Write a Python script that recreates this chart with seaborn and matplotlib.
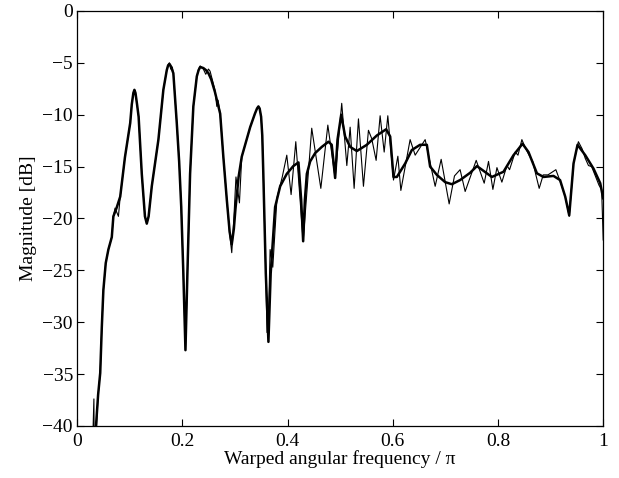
import matplotlib
matplotlib.use("Agg")
import matplotlib.pyplot as plt
import seaborn as sns
import pandas as pd

# Smoothed (thick) spectrum
thick_x = [0.036, 0.040, 0.044, 0.047, 0.050, 0.0545, 0.0595, 0.066, 0.069, 0.075,
           0.082, 0.091, 0.101, 0.104, 0.107, 0.109, 0.111, 0.114, 0.117, 0.123,
           0.129, 0.1325, 0.136, 0.142, 0.1546, 0.164, 0.1705, 0.173, 0.1755, 0.178,
           0.183, 0.1895, 0.194, 0.198, 0.202, 0.206, 0.2097, 0.2148, 0.221, 0.2276,
           0.231, 0.234, 0.240, 0.245, 0.2497, 0.255, 0.262, 0.272, 0.278, 0.2846,
           0.290, 0.294, 0.298, 0.301, 0.307, 0.313, 0.320, 0.329, 0.338, 0.342,
           0.3447, 0.347, 0.3498, 0.352, 0.354, 0.3587, 0.3637, 0.368, 0.3764, 0.386,
           0.3986, 0.411, 0.4208, 0.4259, 0.4297, 0.433, 0.4367, 0.443, 0.4525, 0.4652,
           0.4778, 0.484, 0.4905, 0.495, 0.502, 0.5095, 0.519, 0.5317, 0.5507, 0.5698,
           0.5875, 0.5951, 0.6014, 0.6078, 0.6236, 0.6363, 0.652, 0.6648, 0.671, 0.6838,
           0.6996, 0.7123, 0.728, 0.747, 0.760, 0.7884, 0.8105, 0.8295, 0.8466, 0.858,
           0.874, 0.8865, 0.9055, 0.918, 0.9278, 0.9354, 0.9436, 0.9512, 0.9658, 0.9816,
           0.9943, 1.0]
thick_y = [-40.0, -37.0, -34.9, -30.5, -26.9, -24.3, -23.0, -21.8, -19.8, -19.0,
           -17.9, -14.1, -10.8, -9.0, -7.9, -7.6, -7.9, -9.0, -10.2, -15.7,
           -19.8, -20.5, -19.8, -16.9, -12.4, -7.6, -5.7, -5.25, -5.1, -5.3,
           -6.0, -10.8, -14.5, -18.9, -25.3, -32.7, -25.3, -15.7, -9.2, -6.3,
           -5.7, -5.4, -5.5, -5.7, -6.0, -6.6, -7.8, -9.9, -14.05, -18.2,
           -21.3, -22.5, -21.0, -19.1, -16.0, -14.05, -12.8, -11.2, -9.9, -9.4,
           -9.2, -9.4, -10.2, -12.0, -15.7, -25.3, -31.9, -25.3, -18.9, -16.9,
           -15.7, -14.95, -14.6, -18.2, -22.2, -18.2, -15.7, -14.5, -13.7, -13.1,
           -12.6, -12.9, -16.1, -12.4, -10.0, -12.1, -13.1, -13.5, -12.9, -12.0,
           -11.4, -12.1, -16.0, -16.0, -14.7, -13.4, -12.9, -12.9, -15.0, -15.8,
           -16.5, -16.7, -16.3, -15.6, -14.95, -16.0, -15.5, -13.9, -12.8, -13.6,
           -15.65, -16.0, -15.9, -16.3, -17.9, -19.7, -14.7, -12.9, -13.9, -15.2,
           -16.6, -18.1]

# Detailed (thin) spectrum
thin_x = [0.030, 0.032, 0.033, 0.036, 0.040, 0.044, 0.047, 0.050, 0.0545, 0.0595,
          0.066, 0.069, 0.0722, 0.0786, 0.082, 0.091, 0.101, 0.104, 0.107, 0.109,
          0.111, 0.114, 0.117, 0.123, 0.129, 0.1325, 0.136, 0.142, 0.1546, 0.164,
          0.1705, 0.173, 0.1755, 0.178, 0.181, 0.183, 0.1895, 0.194, 0.198, 0.202,
          0.206, 0.2097, 0.2148, 0.221, 0.2276, 0.231, 0.234, 0.240, 0.2446, 0.2497,
          0.2528, 0.262, 0.2656, 0.268, 0.272, 0.278, 0.2846, 0.290, 0.294, 0.298,
          0.302, 0.3086, 0.313, 0.320, 0.329, 0.338, 0.342, 0.3447, 0.347, 0.3498,
          0.352, 0.354, 0.3587, 0.361, 0.3637, 0.3669, 0.372, 0.380, 0.390, 0.3986,
          0.4068, 0.4157, 0.4297, 0.446, 0.4633, 0.4766, 0.4905, 0.503, 0.5127, 0.519,
          0.5266, 0.5348, 0.5443, 0.5538, 0.560, 0.5684, 0.576, 0.5837, 0.5906, 0.6014,
          0.6097, 0.6154, 0.633, 0.6426, 0.6616, 0.6806, 0.692, 0.7072, 0.7173, 0.728,
          0.7376, 0.7586, 0.7738, 0.782, 0.7903, 0.798, 0.8074, 0.817, 0.822, 0.8327,
          0.838, 0.8454, 0.852, 0.858, 0.866, 0.872, 0.8783, 0.886, 0.895, 0.910,
          0.918, 0.9278, 0.9354, 0.9436, 0.9528, 0.960, 0.9658, 0.972, 0.978, 0.985,
          0.992, 0.997, 1.0]
thin_y = [-41.0, -37.4, -45.0, -41.0, -37.0, -34.9, -30.5, -26.9, -24.3, -23.0,
          -21.8, -19.8, -19.0, -19.8, -17.9, -14.1, -10.8, -9.0, -7.9, -7.6,
          -7.9, -9.0, -10.2, -15.7, -19.8, -20.5, -19.8, -16.9, -12.4, -7.6,
          -5.7, -5.2, -5.0, -5.6, -5.4, -6.0, -10.8, -14.5, -18.9, -25.3,
          -32.7, -25.3, -15.7, -9.2, -6.3, -5.6, -5.3, -5.6, -6.1, -5.6,
          -5.8, -7.6, -9.2, -8.6, -9.9, -14.05, -18.2, -21.5, -23.3, -20.0,
          -16.0, -18.5, -14.05, -12.8, -11.2, -9.9, -9.4, -9.2, -9.4, -10.2,
          -12.0, -15.7, -25.3, -31.0, -30.0, -23.0, -24.7, -18.0, -16.0, -13.9,
          -17.7, -12.6, -22.2, -11.3, -17.1, -11.0, -16.1, -8.9, -14.9, -11.2,
          -17.1, -10.4, -16.9, -11.5, -12.3, -14.4, -10.1, -13.6, -10.1, -16.3,
          -14.0, -17.3, -12.4, -13.9, -12.4, -16.9, -14.3, -18.6, -15.9, -15.3,
          -17.4, -14.4, -16.6, -14.5, -17.2, -15.1, -16.5, -14.9, -15.3, -13.6,
          -13.9, -12.4, -13.2, -13.8, -14.5, -15.8, -17.1, -15.8, -15.8, -15.3,
          -16.4, -17.9, -19.8, -14.7, -12.6, -13.3, -14.2, -14.9, -15.0, -15.9,
          -16.8, -17.2, -22.1]

x_ticks = [0, 0.2, 0.4, 0.6, 0.8, 1]
x_tick_labels = ["0", "0.2", "0.4", "0.6", "0.8", "1"]
y_ticks = [-40, -35, -30, -25, -20, -15, -10, -5, 0]
y_tick_labels = ["\u221240", "\u221235", "\u221230", "\u221225", "\u221220",
                 "\u221215", "\u221210", "\u22125", "0"]

sns.set_theme(style="white")
plt.rcParams["font.family"] = ["Liberation Serif", "DejaVu Serif"]

fig = plt.figure(figsize=(6.19, 4.78), dpi=100)
ax = fig.add_axes([0.1245, 0.109, 0.850, 0.868])

thin_df = pd.DataFrame({"x": thin_x, "y": thin_y})
thick_df = pd.DataFrame({"x": thick_x, "y": thick_y})
sns.lineplot(data=thin_df, x="x", y="y", ax=ax, color="black", linewidth=0.8,
             estimator=None, sort=False)
sns.lineplot(data=thick_df, x="x", y="y", ax=ax, color="black", linewidth=1.8,
             estimator=None, sort=False)

ax.set_xlim(0, 1)
ax.set_ylim(-40, 0)
ax.set_xticks(x_ticks)
ax.set_xticklabels(x_tick_labels)
ax.set_yticks(y_ticks)
ax.set_yticklabels(y_tick_labels)
ax.tick_params(direction="in", length=5, width=0.8, color="black",
               top=True, right=True, bottom=True, left=True,
               labelsize=14, labelcolor="black")
ax.tick_params(axis="x", pad=5)
ax.tick_params(axis="y", pad=3)
for s in ax.spines.values():
    s.set_visible(True)
    s.set_color("black")
    s.set_linewidth(0.9)
ax.set_xlabel("Warped angular frequency / \u03c0", fontsize=14, labelpad=0, color="black")
ax.set_ylabel("Magnitude [dB]", fontsize=14, labelpad=4, color="black")
ax.grid(False)

fig.savefig("out.png", dpi=100)
